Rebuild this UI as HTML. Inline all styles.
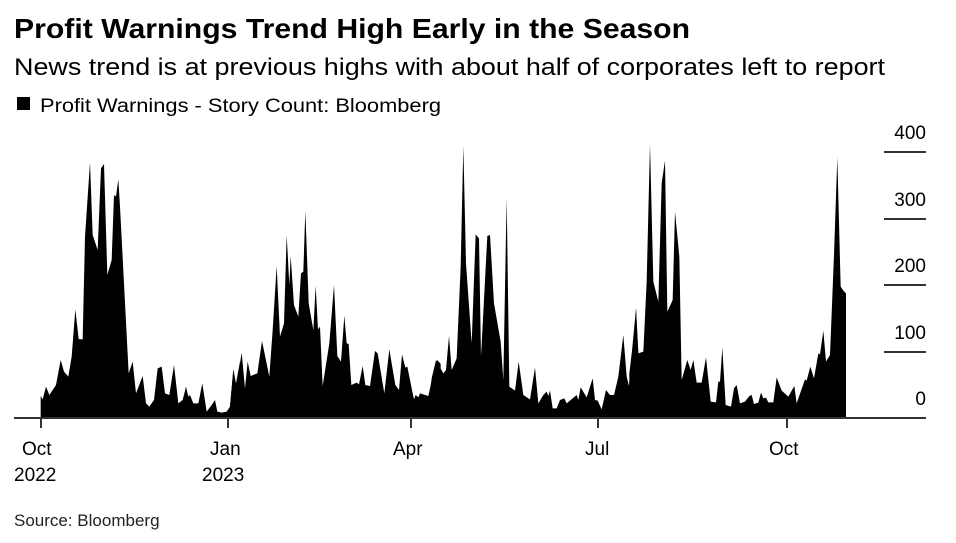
<!DOCTYPE html>
<html><head><meta charset="utf-8"><style>
html,body{margin:0;padding:0;background:#fff;}
svg{display:block;font-family:"Liberation Sans",Arial,sans-serif;}
</style></head><body>
<svg width="956" height="543" viewBox="0 0 956 543" xmlns="http://www.w3.org/2000/svg">
<text x="14" y="38" font-size="28" font-weight="bold" textLength="676" lengthAdjust="spacingAndGlyphs">Profit Warnings Trend High Early in the Season</text>
<text x="14" y="75" font-size="24" textLength="871" lengthAdjust="spacingAndGlyphs">News trend is at previous highs with about half of corporates left to report</text>
<rect x="17" y="97" width="13" height="13" fill="#000"/>
<text x="40" y="112" font-size="19" textLength="401" lengthAdjust="spacingAndGlyphs">Profit Warnings - Story Count: Bloomberg</text>
<g stroke="#333" stroke-width="2">
<line x1="884" y1="152" x2="926" y2="152"/>
<line x1="884" y1="219" x2="926" y2="219"/>
<line x1="884" y1="285" x2="926" y2="285"/>
<line x1="884" y1="352" x2="926" y2="352"/>
</g>
<g font-size="19" text-anchor="end" fill="#000">
<text x="926" y="139">400</text>
<text x="926" y="206">300</text>
<text x="926" y="272">200</text>
<text x="926" y="339">100</text>
<text x="926" y="405">0</text>
</g>
<g fill="#000">
<polygon transform="translate(30,140) scale(0.33333)" points="32,832 32,768 38,778 48,740 58,765 78,735 92,660 102,695 115,710 125,650 136,508 146,597 158,598 165,290 180,68 188,285 203,330 213,85 222,72 232,405 245,360 252,165 258,170 265,118 270,200 296,700 308,665 318,760 338,708 348,790 358,800 372,780 383,685 395,680 405,760 418,765 432,675 445,790 458,780 468,740 475,770 480,765 490,790 505,790 517,730 530,815 545,795 555,780 562,815 575,818 590,815 600,800 610,688 618,730 630,665 630,832"/>
<polygon transform="translate(230,140) scale(0.33333)" points="0,832 0,800 10,688 18,745 35,638 45,745 53,665 62,708 82,700 96,603 118,710 128,570 140,378 150,590 162,550 170,285 178,435 182,348 192,495 205,530 213,400 220,395 226,212 236,490 250,570 257,437 264,568 270,560 278,738 298,610 312,435 322,648 333,665 343,527 350,610 356,612 364,735 380,728 387,733 398,678 406,735 420,738 435,633 443,640 463,760 478,628 496,735 507,750 516,643 526,683 532,680 545,745 552,778 557,765 565,772 570,760 595,768 608,710 622,660 632,672 632,832"/>
<polygon transform="translate(430,140) scale(0.33333)" points="-2,832 -2,770 5,715 18,660 40,700 48,690 57,588 65,690 80,655 92,380 100,18 108,370 125,610 137,283 147,295 153,650 172,288 180,285 192,490 212,605 220,720 230,172 238,740 255,752 266,665 280,765 300,778 315,683 325,790 340,765 350,755 355,768 360,752 368,805 380,805 390,780 403,775 410,790 440,765 445,780 452,742 470,772 488,715 495,780 503,782 515,808 528,750 540,765 552,765 565,710 580,585 590,710 597,738 605,640 612,640 618,505 625,640 632,640 632,832"/>
<polygon transform="translate(630,140) scale(0.33333)" points="-2,832 -2,700 5,643 18,505 25,640 40,635 50,425 60,12 70,425 85,485 95,130 105,62 112,515 128,480 135,215 148,350 155,720 172,660 182,690 190,660 200,728 215,728 228,652 242,785 258,787 265,725 270,725 277,623 287,795 303,800 312,745 320,735 330,790 345,785 358,768 365,765 372,792 385,788 393,758 400,775 408,773 415,787 430,787 440,712 455,752 475,770 493,738 500,790 525,718 530,722 541,680 552,715 565,640 570,643 580,572 588,665 600,645 612,345 622,52 632,440 640,452 648,460 648,832"/>
</g>
<line x1="14" y1="418" x2="926" y2="418" stroke="#333" stroke-width="2"/>
<g stroke="#333" stroke-width="2">
<line x1="41" y1="418" x2="41" y2="428"/>
<line x1="228" y1="418" x2="228" y2="428"/>
<line x1="411" y1="418" x2="411" y2="428"/>
<line x1="598" y1="418" x2="598" y2="428"/>
<line x1="787" y1="418" x2="787" y2="428"/>
</g>
<g font-size="19" fill="#000">
<text x="22" y="455">Oct</text>
<text x="14" y="481">2022</text>
<text x="210" y="455">Jan</text>
<text x="202" y="481">2023</text>
<text x="393" y="455">Apr</text>
<text x="585" y="455">Jul</text>
<text x="769" y="455">Oct</text>
</g>
<text x="14" y="526" font-size="17" fill="#222">Source: Bloomberg</text>
</svg>
</body></html>
